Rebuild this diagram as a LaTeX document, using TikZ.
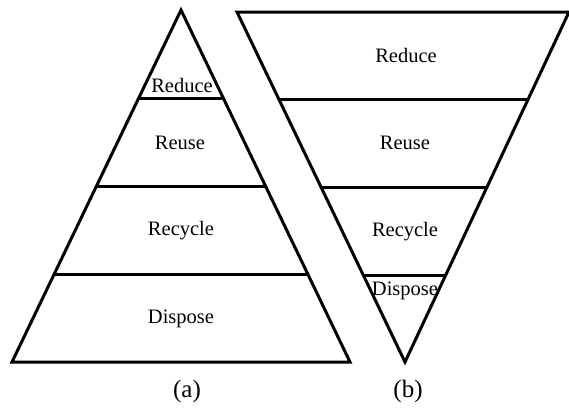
\documentclass[tikz,border=0pt]{standalone}
\usepackage{fontspec}
\setmainfont{Liberation Serif}
\usetikzlibrary{calc}
\begin{document}
\begin{tikzpicture}[x=1pt,y=-1pt,
  shape line/.style={line width=3pt, line join=miter},
  lbl/.style={inner sep=0pt, font=\fontsize{20.5}{24}\selectfont},
  captionlbl/.style={inner sep=0pt, font=\fontsize{25}{30}\selectfont}]
\useasboundingbox (0,0) rectangle (569,410);
% (a) pyramid
\coordinate (aTop) at (181,10);
\coordinate (aBL) at (12,362);
\coordinate (aBR) at (350,362);
\draw[shape line] (aTop) -- (aBR) -- (aBL) -- cycle;
\draw[shape line] ($(aTop)!88/352!(aBL)$) -- ($(aTop)!88/352!(aBR)$);
\draw[shape line] ($(aTop)!176/352!(aBL)$) -- ($(aTop)!176/352!(aBR)$);
\draw[shape line] ($(aTop)!264/352!(aBL)$) -- ($(aTop)!264/352!(aBR)$);
\node[lbl] (aReduce) at (182,85) {Reduce};
\node[lbl] (aReuse) at (180,143) {Reuse};
\node[lbl] (aRecycle) at (181,231) {Recycle};
\node[lbl] (aDispose) at (181,319) {Dispose};
\node[captionlbl] (capA) at (187,391) {(a)};
% (b) inverted pyramid
\coordinate (bTL) at (237,12);
\coordinate (bTR) at (569,12);
\coordinate (bBot) at (405,362);
\draw[shape line] (bTL) -- (bTR) -- (bBot) -- cycle;
\draw[shape line] ($(bTL)!87/350!(bBot)$) -- ($(bTR)!87/350!(bBot)$);
\draw[shape line] ($(bTL)!175/350!(bBot)$) -- ($(bTR)!175/350!(bBot)$);
\draw[shape line] ($(bTL)!263/350!(bBot)$) -- ($(bTR)!263/350!(bBot)$);
\node[lbl] (bReduce) at (406,55) {Reduce};
\node[lbl] (bReuse) at (405,143) {Reuse};
\node[lbl] (bRecycle) at (405,232) {Recycle};
\node[lbl] (bDispose) at (405,291) {Dispose};
\node[captionlbl] (capB) at (408,391) {(b)};
\end{tikzpicture}
\end{document}
